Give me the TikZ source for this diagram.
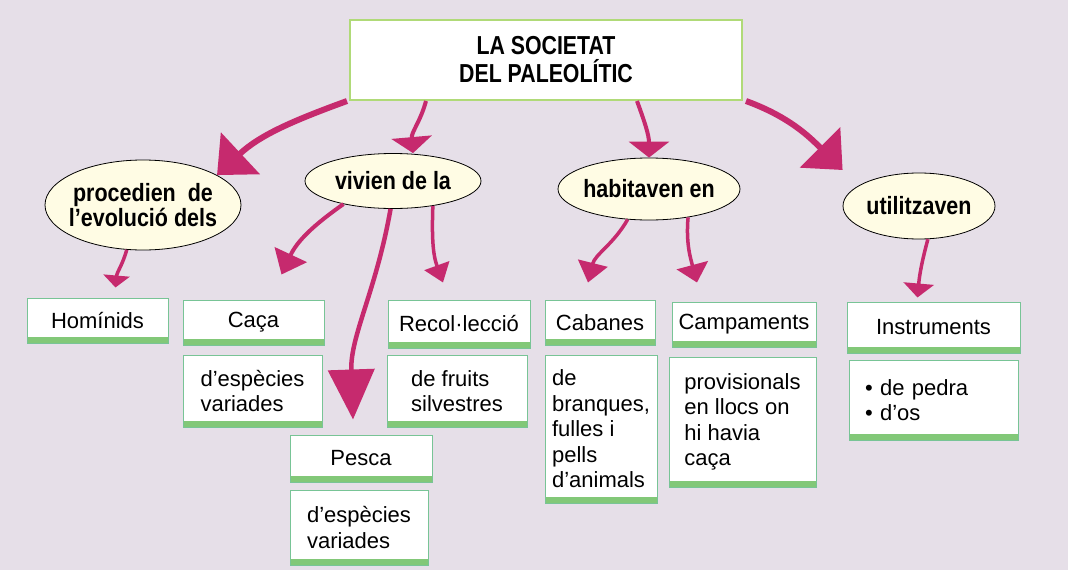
\documentclass[tikz,border=0pt]{standalone}
\usepackage{fontspec}
\setmainfont{Liberation Sans}
\newfontfamily\condfont[FakeStretch=0.86]{Liberation Sans}
\newfontfamily\titlefont[FakeStretch=0.82]{Liberation Sans}
\usetikzlibrary{shapes.geometric,arrows.meta}
\definecolor{bgc}{RGB}{230,223,232}
\definecolor{arrc}{RGB}{198,42,110}
\definecolor{boxline}{RGB}{120,196,150}
\definecolor{barc}{RGB}{130,200,120}
\definecolor{titleline}{RGB}{176,218,120}
\definecolor{cream}{RGB}{255,252,228}
\begin{document}
\begin{tikzpicture}[x=1pt,y=1pt,
  titlebox/.style={draw=titleline,line width=2pt,fill=white,minimum width=392pt,minimum height=80pt,inner sep=0pt,align=center,font=\titlefont\bfseries\fontsize{26}{28}\selectfont},
  oval/.style={ellipse,draw=black,line width=0.8pt,fill=cream,inner xsep=-12pt,inner ysep=0pt,align=center,font=\condfont\bfseries\fontsize{25}{25}\selectfont},
  card/.style={draw=boxline,line width=1pt,fill=white,inner sep=0pt,align=left,font=\fontsize{22}{25.5}\selectfont,
    path picture={\fill[barc] (path picture bounding box.south west) rectangle ([yshift=6pt]path picture bounding box.south east);}},
  conn/.style={draw=arrc,line width=4pt},
  bighead/.style={-{Triangle[width=56pt,length=32pt]}},
  midhead/.style={-{Triangle[width=40pt,length=16pt]}}
]
\useasboundingbox (0,0) rectangle (1068,-570);
\fill[bgc] (0,0) rectangle (1068,-570);

% title
\node[titlebox] (title) at (546,-60) {LA SOCIETAT\\DEL PALEOLÍTIC};

% ovals
\node[oval,minimum width=196pt,minimum height=90pt] (proc) at (143,-205) {procedien\hspace{6pt} de\\l’evolució dels};
\node[oval,minimum width=176pt,minimum height=55pt] (viv) at (393,-181) {vivien de la};
\node[oval,minimum width=182pt,minimum height=62pt] (hab) at (649,-189) {habitaven en};
\node[oval,minimum width=152pt,minimum height=66pt] (util) at (919,-206) {utilitzaven};

% cards
\node[card,minimum width=141pt,minimum height=45pt] (hom) at (97.5,-320.5) {Homínids};
\node[card,minimum width=141pt,minimum height=45pt] (caca) at (253.5,-322.5) {Caça};
\node[card,minimum width=142pt,minimum height=48pt] (recol) at (459,-324) {Recol·lecció};
\node[card,minimum width=139pt,minimum height=72pt] (esp1) at (252.5,-391) {d’espècies\\variades};
\node[card,minimum width=140pt,minimum height=72pt] (fruits) at (457,-391) {de fruits\\silvestres};
\node[card,minimum width=142pt,minimum height=47pt] (pesca) at (361,-458.5) {Pesca};
\node[card,minimum width=138pt,minimum height=75pt] (esp2) at (359,-527.5) {d’espècies\\variades};
\node[card,minimum width=110pt,minimum height=45pt] (cab) at (600,-322.5) {Cabanes};
\node[card,minimum width=144pt,minimum height=45pt] (camp) at (744,-324.5) {Campaments};
\node[card,minimum width=173pt,minimum height=51pt] (instr) at (933.5,-327.5) {Instruments};
\node[card,minimum width=112pt,minimum height=148pt] (bran) at (601,-429) {de\\branques,\\fulles i\\pells\\d’animals};
\node[card,minimum width=147pt,minimum height=130pt] (prov) at (742.5,-422) {provisionals\\en llocs on\\hi havia\\caça};
\node[card,minimum width=169pt,minimum height=80pt,text width=137pt] (pedra) at (933.5,-400) {• de pedra\\• d’os};

% connectors
\draw[conn,line width=6pt,bighead] ([xshift=-2pt]title.south west) to[out=200,in=43] (proc.22);
\draw[conn,midhead] ([xshift=77pt]title.south west) to[out=-105,in=95] ([xshift=20pt]viv.north);
\draw[conn,midhead] ([xshift=91pt]title.south) to[out=-70,in=90] (hab.north);
\draw[conn,line width=6pt,bighead] ([xshift=3pt]title.south east) to[out=-20,in=135] ([yshift=36pt]util.west);

\draw[conn,line width=3.5pt,-{Triangle[width=26pt,length=12pt]}] (proc.-110) to[out=-105,in=85] ([shift={(18pt,10pt)}]hom.north);
\draw[conn,-{Triangle[width=35pt,length=22pt]}] (viv.205) to[out=215,in=65] ([shift={(28pt,25pt)}]caca.north);
\draw[conn,line width=4.5pt,-{Triangle[width=46pt,length=50pt]}] (viv.265) to[out=-100,in=92] ([shift={(-8pt,15pt)}]pesca.north);
\draw[conn,line width=3.5pt,-{Triangle[width=26pt,length=18pt]}] (viv.-32) to[out=-92,in=110] ([shift={(-16pt,17pt)}]recol.north);

\draw[conn,line width=3.5pt,-{Triangle[width=30pt,length=20pt]}] (hab.-125) to[out=240,in=76] ([shift={(-12pt,17pt)}]cab.north);
\draw[conn,line width=3.5pt,-{Triangle[width=32pt,length=18pt]}] (hab.-36) to[out=-95,in=105] ([shift={(-47pt,19pt)}]camp.north);

\draw[conn,line width=3.5pt,-{Triangle[width=30pt,length=14pt]}] (util.-75) to[out=-105,in=85] ([shift={(-16pt,4pt)}]instr.north);
\end{tikzpicture}
\end{document}
